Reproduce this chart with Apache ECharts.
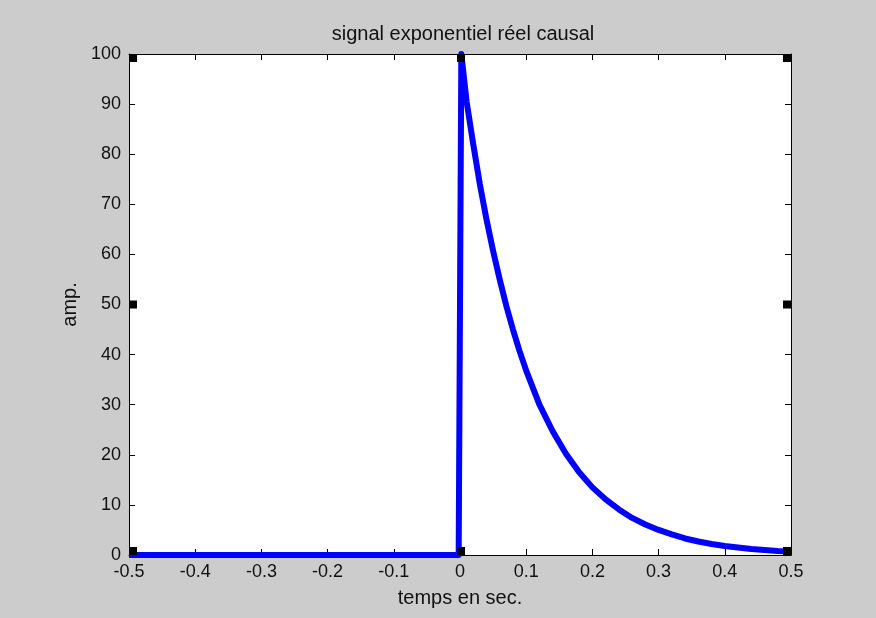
<!DOCTYPE html>
<html>
<head>
<meta charset="utf-8">
<script src="https://cdn.jsdelivr.net/npm/echarts@6/dist/echarts.min.js"></script>
<style>
html,body{margin:0;padding:0;background:#cccccc;}
#chart{width:876px;height:618px;}
</style>
</head>
<body>
<div id="chart"></div>
<script>
// Signal samples: time (s) and amplitude
const timeValues = [-0.5, -0.002, 0, 0.002, 0.01, 0.02, 0.03, 0.04, 0.05, 0.06, 0.07, 0.08, 0.09, 0.10, 0.12, 0.14, 0.16, 0.18, 0.20, 0.22, 0.24, 0.26, 0.28, 0.30, 0.32, 0.34, 0.36, 0.38, 0.40, 0.42, 0.44, 0.46, 0.48, 0.50];
const ampValues  = [0, 0, 50, 100, 90.5, 82, 74, 67, 60.7, 55, 49.7, 45, 40.7, 36.8, 30, 24.7, 20.2, 16.5, 13.5, 11.1, 9.1, 7.4, 6.1, 5.0, 4.1, 3.3, 2.7, 2.2, 1.8, 1.5, 1.2, 1.0, 0.8, 0.7];

// Selection handles (MATLAB axes handles) at corners and mid-edges
const handleX = [-0.5, 0, 0.5, -0.5, 0.5, -0.5, 0, 0.5];
const handleY = [100, 100, 100, 50, 50, 0, 0, 0];
const handleOffsetX = [4, 1, -4, 4, -4, 4, 1, -4];
const handleOffsetY = [4, 4, 4, 0, 0, -4, -4, -4];

const titleText = 'signal exponentiel réel causal';
const xName = 'temps en sec.';
const yName = 'amp.';

const signalData = timeValues.map((t, i) => [t, ampValues[i]]);
const handleData = handleX.map((x, i) => ({
  value: [x, handleY[i]],
  symbolOffset: [handleOffsetX[i], handleOffsetY[i]]
}));

const fontFam = 'Arial, "Liberation Sans", Helvetica, sans-serif';
const txt = '#111111';

function fmt(v) {
  const r = Math.round(v * 10) / 10;
  if (Math.abs(r) < 1e-9) return '0';
  return Number.isInteger(r) ? String(r) : r.toFixed(1);
}

const axisCommon = {
  axisLine: { show: true, onZero: false, lineStyle: { color: '#000', width: 1 } },
  axisTick: { show: true, inside: true, length: 6, lineStyle: { color: '#000', width: 1 } },
  splitLine: { show: false }
};

const chart = echarts.init(document.getElementById('chart'), null, { renderer: 'canvas' });
chart.setOption({
  backgroundColor: '#cccccc',
  animation: false,
  title: {
    text: titleText,
    left: 458, top: 19, textAlign: 'center',
    textStyle: { fontFamily: fontFam, fontSize: 20, fontWeight: 'normal', color: txt }
  },
  grid: { left: 129, right: 85, top: 54, bottom: 63, show: true, backgroundColor: '#ffffff', borderWidth: 0 },
  xAxis: [
    Object.assign({
      type: 'value', position: 'bottom', min: -0.5, max: 0.5, interval: 0.1,
      name: xName, nameLocation: 'middle', nameGap: 33,
      nameTextStyle: { fontFamily: fontFam, fontSize: 20, color: txt },
      axisLabel: { formatter: fmt, margin: 8, fontFamily: fontFam, fontSize: 18, color: txt }
    }, axisCommon),
    Object.assign({
      type: 'value', position: 'top', min: -0.5, max: 0.5, interval: 0.1,
      axisLabel: { show: false }
    }, axisCommon)
  ],
  yAxis: [
    Object.assign({
      type: 'value', position: 'left', min: 0, max: 100, interval: 10,
      name: yName, nameLocation: 'middle', nameGap: 48,
      nameTextStyle: { fontFamily: fontFam, fontSize: 20, color: txt },
      axisLabel: { margin: 8, fontFamily: fontFam, fontSize: 18, color: txt }
    }, axisCommon),
    Object.assign({
      type: 'value', position: 'right', min: 0, max: 100, interval: 10,
      axisLabel: { show: false }
    }, axisCommon)
  ],
  series: [
    {
      type: 'line', data: signalData, xAxisIndex: 0, yAxisIndex: 0,
      showSymbol: false, symbol: 'none', smooth: false,
      lineStyle: { color: '#0000ff', width: 6, join: 'round' },
      clip: false, z: 3
    },
    {
      type: 'scatter', data: handleData, xAxisIndex: 0, yAxisIndex: 0,
      symbol: 'rect', symbolSize: 8,
      itemStyle: { color: '#000000', opacity: 1 },
      clip: false, z: 5, silent: true
    }
  ]
});
</script>
</body>
</html>
